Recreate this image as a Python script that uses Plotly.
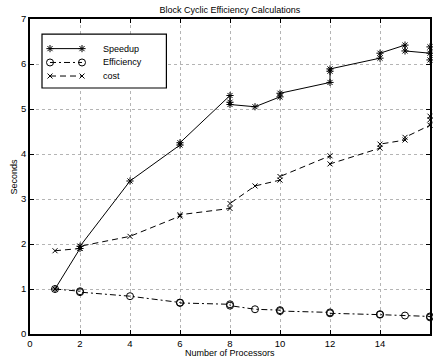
import plotly.graph_objects as go

# Data
speedup_x = [1, 2, 2, 4, 6, 6, 8, 8, 8, 9, 10, 10, 12, 12, 12, 14, 14, 15, 15, 16, 16, 16]
speedup_y = [1.0, 1.90, 1.95, 3.40, 4.20, 4.25, 5.30, 5.15, 5.10, 5.05, 5.27, 5.35, 5.59, 5.84, 5.89,
             6.13, 6.24, 6.42, 6.29, 6.24, 6.38, 6.09]

eff_x = [1, 2, 2, 4, 6, 6, 8, 8, 9, 10, 10, 12, 12, 14, 14, 15, 16, 16]
eff_y = [1.0, 0.95, 0.93, 0.84, 0.70, 0.69, 0.66, 0.63, 0.55, 0.53, 0.51, 0.48, 0.46, 0.44, 0.43, 0.41, 0.39, 0.37]

cost_x = [1, 2, 2, 4, 6, 6, 8, 8, 9, 10, 10, 12, 12, 14, 14, 15, 15, 16, 16, 16]
cost_y = [1.85, 1.90, 1.95, 2.17, 2.62, 2.65, 2.79, 2.90, 3.29, 3.42, 3.50, 3.96, 3.78, 4.13, 4.22,
          4.31, 4.37, 4.64, 4.76, 4.84]

series_names = ["Speedup", "Efficiency", "cost"]
x_ticks = [0, 2, 4, 6, 8, 10, 12, 14, 16]
y_ticks = [0, 1, 2, 3, 4, 5, 6, 7]

title_text = "Block Cyclic Efficiency Calculations"
x_title = "Number of Processors"
y_title = "Seconds"

FONT = "Liberation Sans, Arial, Helvetica, sans-serif"
X_RANGE = [0, 16]
Y_RANGE = [0, 7]

styles = [
    dict(dash="solid", symbol="asterisk-open", size=6),
    dict(dash="6px,3px,2px,3px", symbol="circle-open", size=7),
    dict(dash="6px,4px", symbol="x-thin-open", size=5),
]

fig = go.Figure()
for (xs, ys), name, st in zip([(speedup_x, speedup_y), (eff_x, eff_y), (cost_x, cost_y)], series_names, styles):
    fig.add_trace(go.Scatter(
        x=xs, y=ys, name=name, mode="lines+markers",
        line=dict(color="black", width=1, dash=st["dash"]),
        marker=dict(symbol=st["symbol"], size=st["size"], color="black",
                    line=dict(color="black", width=1)),
        showlegend=False, cliponaxis=False,
    ))

# Manual MATLAB-style legend, positioned in fractions of the plot area
def fx(f):
    return X_RANGE[0] + f * (X_RANGE[1] - X_RANGE[0])

def fy(f):
    return Y_RANGE[0] + f * (Y_RANGE[1] - Y_RANGE[0])

leg_left, leg_right, leg_top, leg_bottom = 0.03, 0.341, 0.952, 0.781
leg_rows = [0.906, 0.862, 0.819]
line_x0, line_x1, text_x = 0.05, 0.13, 0.178
fig.add_shape(type="rect", xref="x", yref="y", x0=fx(leg_left), x1=fx(leg_right),
              y0=fy(leg_bottom), y1=fy(leg_top), line=dict(color="black", width=1.2),
              fillcolor="white", layer="between")
for name, st, ry in zip(series_names, styles, leg_rows):
    fig.add_trace(go.Scatter(
        x=[fx(line_x0), fx(line_x1)], y=[fy(ry), fy(ry)], mode="lines+markers",
        line=dict(color="black", width=1, dash=st["dash"]),
        marker=dict(symbol=st["symbol"], size=st["size"], color="black",
                    line=dict(color="black", width=1)),
        showlegend=False, hoverinfo="skip", cliponaxis=False,
    ))
    fig.add_annotation(x=text_x, y=ry, xref="paper", yref="paper", text=name,
                       showarrow=False, xanchor="left", yanchor="middle",
                       font=dict(family=FONT, size=9, color="black"))

fig.update_layout(
    width=433, height=362,
    margin=dict(l=30, r=3, t=19, b=28, autoexpand=False),
    paper_bgcolor="white", plot_bgcolor="white",
    font=dict(family=FONT, size=9, color="black"),
    title=dict(text=title_text, x=0.531, xanchor="center", y=0.972, yanchor="middle",
               font=dict(family=FONT, size=9, color="black")),
    xaxis=dict(range=X_RANGE, tickvals=x_ticks, ticktext=[str(v) for v in x_ticks],
               showgrid=True, gridcolor="#b4b4b4", griddash="dot", gridwidth=0.6,
               showline=True, linecolor="black", linewidth=1.5, mirror="allticks",
               ticks="inside", ticklen=4, tickcolor="black", zeroline=False,
               tickfont=dict(size=9.5), automargin=False),
    yaxis=dict(range=Y_RANGE, tickvals=y_ticks, ticktext=[str(v) for v in y_ticks],
               showgrid=True, gridcolor="#b4b4b4", griddash="dot", gridwidth=0.6,
               showline=True, linecolor="black", linewidth=1.5, mirror="allticks",
               ticks="inside", ticklen=4, tickcolor="black", zeroline=False,
               tickfont=dict(size=9.5), automargin=False),
    showlegend=False,
)

fig.add_annotation(text=x_title, xref="paper", yref="paper", x=0.5, y=0, yshift=-19,
                   showarrow=False, xanchor="center", yanchor="middle",
                   font=dict(family=FONT, size=9, color="black"))
fig.add_annotation(text=y_title, xref="paper", yref="paper", x=0, xshift=-17, y=0.5,
                   showarrow=False, xanchor="center", yanchor="middle", textangle=-90,
                   font=dict(family=FONT, size=9, color="black"))

fig.write_html("out.html")
